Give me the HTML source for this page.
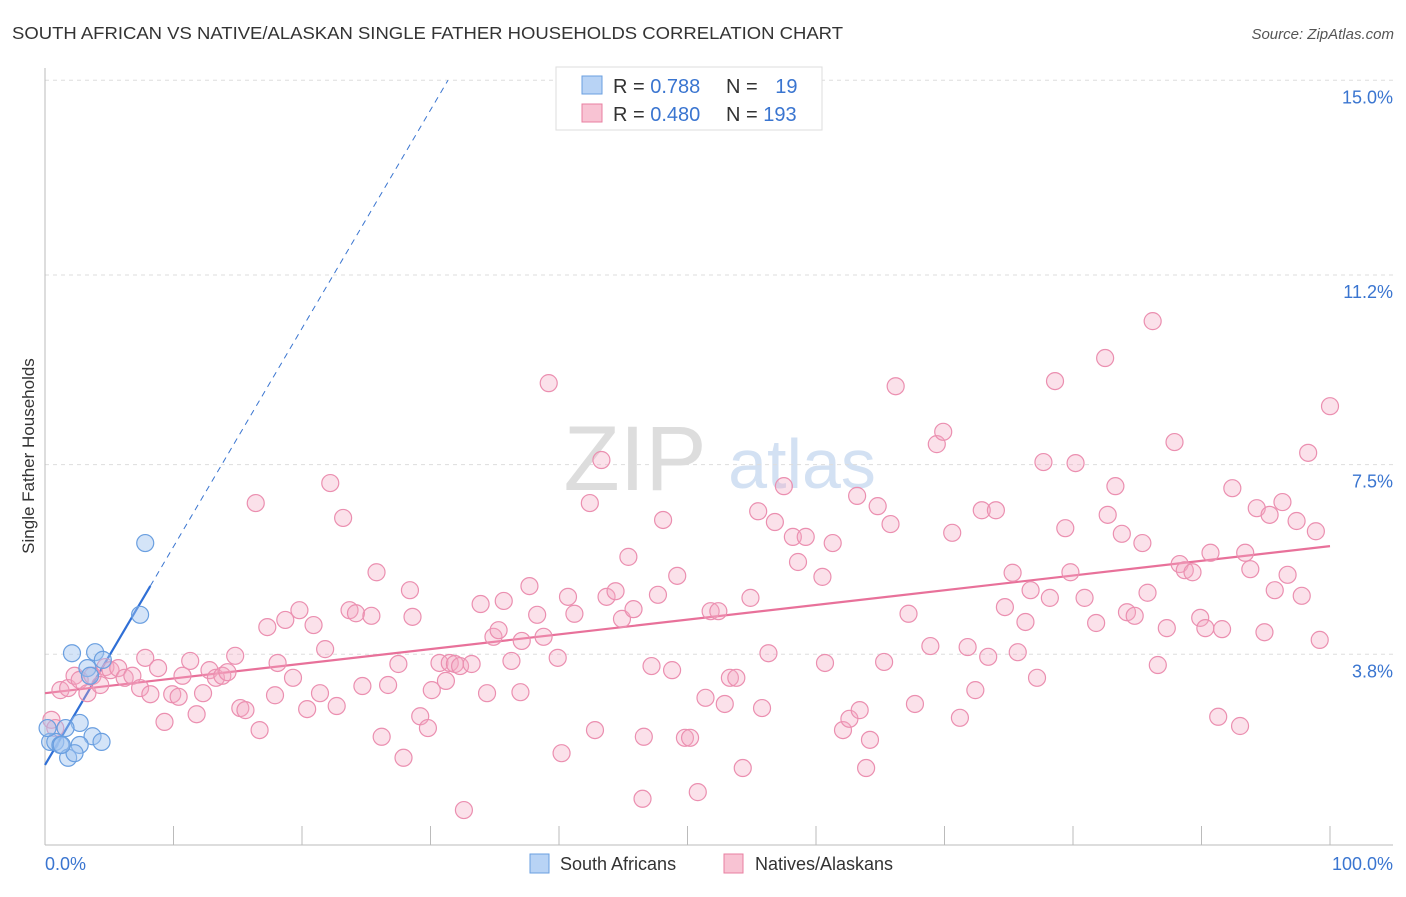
<!DOCTYPE html>
<html><head><meta charset="utf-8"><style>
body{margin:0;background:#fff;font-family:"Liberation Sans",sans-serif}
svg text{font-family:"Liberation Sans",sans-serif}
</style></head><body>
<svg id="chart" width="1406" height="892" xmlns="http://www.w3.org/2000/svg">
<text x="12" y="39" font-size="17.5" fill="#333" textLength="831" lengthAdjust="spacingAndGlyphs">SOUTH AFRICAN VS NATIVE/ALASKAN SINGLE FATHER HOUSEHOLDS CORRELATION CHART</text>
<text x="1394" y="39" font-size="15" fill="#555" font-style="italic" text-anchor="end">Source: ZipAtlas.com</text>
<g>
<text x="635" y="490" font-size="92" fill="#ddd" font-family="Liberation Serif" text-anchor="middle">ZIP</text>
<text x="802" y="488" font-size="70" fill="#d3e1f3" text-anchor="middle">atlas</text>
</g>
<g id="grid"></g>
<g id="axes"></g>
<text transform="translate(34,456) rotate(-90)" font-size="17" fill="#333" text-anchor="middle">Single Father Households</text>
<g id="lines"></g>
<g id="pts"></g>
<g>
<rect x="556" y="67" width="266" height="63" fill="#fff" stroke="#ddd"/>
<rect x="582" y="76" width="20" height="18" fill="#b8d3f5" stroke="#6a9fe0"/>
<rect x="582" y="104" width="20" height="18" fill="#f8c3d3" stroke="#e87fa0"/>
<text x="613" y="93" font-size="20" fill="#333">R = <tspan fill="#3a75d0">0.788</tspan></text>
<text x="726" y="93" font-size="20" fill="#333">N = <tspan fill="#3a75d0" dx="12">19</tspan></text>
<text x="613" y="121" font-size="20" fill="#333">R = <tspan fill="#3a75d0">0.480</tspan></text>
<text x="726" y="121" font-size="20" fill="#333">N = <tspan fill="#3a75d0">193</tspan></text>
</g>
<g>
<rect x="530" y="854" width="19" height="19" fill="#b8d3f5" stroke="#6a9fe0"/>
<text x="560" y="870" font-size="18" fill="#333">South Africans</text>
<rect x="724" y="854" width="19" height="19" fill="#f8c3d3" stroke="#e87fa0"/>
<text x="755" y="870" font-size="18" fill="#333">Natives/Alaskans</text>
</g>
</svg>
<script>
const yTicks=[15.0,11.2,7.5,3.8];
const yTickLabels=["15.0%","11.2%","7.5%","3.8%"];
const xTickLabels=["0.0%","100.0%"];
const blueX=[7.8,7.4,3.9,2.1,3.3,3.5,4.5,2.7,1.6,3.7,4.4,0.4,0.8,1.2,2.7,1.8,2.3,0.2,1.3];
const blueY=[5.97,4.57,3.84,3.82,3.53,3.38,3.69,2.46,2.36,2.2,2.09,2.09,2.09,2.03,2.03,1.78,1.87,2.36,2.03];
const pinkX=[0.5,0.8,1.2,1.8,2.3,2.7,3.3,3.7,4.3,4.7,5.1,5.7,6.2,6.8,7.4,7.8,8.2,8.8,9.3,9.9,10.4,10.7,11.3,11.8,12.3,12.8,13.3,13.8,14.2,14.8,15.2,15.6,16.4,16.7,17.3,17.9,18.1,18.7,19.3,19.8,20.4,20.9,21.4,21.8,22.2,22.7,23.2,23.7,24.2,24.7,25.4,25.8,26.2,26.7,27.5,27.9,28.4,28.6,29.2,29.8,30.1,30.7,31.2,31.5,31.9,32.3,32.6,33.2,33.9,34.4,34.9,35.3,35.7,36.3,37.0,37.1,37.7,38.3,38.8,39.2,39.9,40.2,40.7,41.2,42.4,42.8,43.3,43.7,44.4,44.9,45.4,45.8,46.5,46.6,47.2,47.7,48.1,48.8,49.2,49.8,50.2,50.8,51.4,51.8,52.4,52.9,53.3,53.8,54.3,54.9,55.5,55.8,56.3,56.8,57.5,58.2,58.6,59.2,60.5,60.7,61.3,62.1,62.6,63.2,63.4,63.9,64.2,64.8,65.3,65.8,66.2,67.2,67.7,68.9,69.4,69.9,70.6,71.2,71.8,72.4,72.9,73.4,74.0,74.7,75.3,75.7,76.3,76.7,77.2,77.7,78.2,78.6,79.4,79.8,80.2,80.9,81.8,82.5,82.7,83.3,83.8,84.2,84.8,85.4,85.8,86.2,86.6,87.3,87.9,88.3,88.7,89.3,89.9,90.3,90.7,91.3,91.6,92.4,93.0,93.4,93.8,94.3,94.9,95.3,95.7,96.3,96.7,97.4,97.8,98.3,98.9,99.2,100.0];
const pinkY=[2.52,2.36,3.10,3.14,3.38,3.30,3.04,3.38,3.20,3.55,3.49,3.53,3.34,3.38,3.14,3.73,3.02,3.53,2.48,3.02,2.97,3.38,3.67,2.63,3.04,3.49,3.34,3.38,3.45,3.77,2.75,2.71,6.75,2.32,4.33,3.00,3.63,4.47,3.34,4.66,2.73,4.37,3.04,3.90,7.14,2.79,6.46,4.66,4.60,3.18,4.55,5.40,2.19,3.20,3.61,1.78,5.05,4.53,2.59,2.36,3.10,3.63,3.28,3.63,3.61,3.57,0.76,3.61,4.78,3.04,4.14,4.27,4.84,3.67,3.06,4.06,5.13,4.57,4.14,9.09,3.73,1.87,4.92,4.59,6.75,2.32,7.59,4.92,5.03,4.49,5.70,4.68,0.98,2.19,3.57,4.96,6.42,3.49,5.33,2.17,2.17,1.11,2.95,4.64,4.64,2.83,3.34,3.34,1.58,4.90,6.59,2.75,3.82,6.38,7.08,6.09,5.60,6.09,5.31,3.63,5.97,2.32,2.54,6.89,2.71,1.58,2.13,6.69,3.65,6.34,9.03,4.59,2.83,3.96,7.90,8.14,6.17,2.56,3.94,3.10,6.61,3.75,6.61,4.72,5.39,3.84,4.43,5.05,3.34,7.55,4.90,9.13,6.26,5.40,7.53,4.90,4.41,9.58,6.52,7.08,6.15,4.62,4.55,5.97,5.00,10.30,3.59,4.31,7.94,5.56,5.44,5.40,4.51,4.31,5.78,2.58,4.29,7.04,2.40,5.78,5.46,6.65,4.23,6.52,5.05,6.77,5.35,6.40,4.94,7.73,6.20,4.08,8.64];
const blueFit=[1.64,0.426];
const pinkFit=[3.04,0.0287];

const NS="http://www.w3.org/2000/svg";
const X0=45,X1=1330,YZ=849,YS=51.25;
function sx(v){return X0+(X1-X0)*v/100;}
function sy(v){return YZ-v*YS;}
function mk(tag,attrs,parent){const e=document.createElementNS(NS,tag);for(const k in attrs)e.setAttribute(k,attrs[k]);parent.appendChild(e);return e;}
const grid=document.getElementById('grid'),axes=document.getElementById('axes');
yTicks.forEach((t,i)=>{
  const l=mk('line',{x1:X0,x2:1393,y1:sy(t),y2:sy(t),stroke:'#ddd','stroke-dasharray':'4,4'},grid);
  
  
  const tx=mk('text',{x:1393,y:sy(t)+23,'font-size':18,fill:'#3a75d0','text-anchor':'end'},axes);
  tx.textContent=yTickLabels[i];
  
  
});
mk('line',{x1:X0,x2:X0,y1:68,y2:845,stroke:'#bbb'},axes);
mk('line',{x1:X0,x2:1393,y1:845,y2:845,stroke:'#bbb'},axes);
for(let i=0;i<=10;i++){
  const t=mk('line',{x1:sx(i*10),x2:sx(i*10),y1:826,y2:845,stroke:'#bbb'},axes);
  
  
}
const xl0=mk('text',{x:45,y:870,'font-size':18,fill:'#3a75d0'},axes);xl0.textContent=xTickLabels[0];


const xl1=mk('text',{x:1393,y:870,'font-size':18,fill:'#3a75d0','text-anchor':'end'},axes);xl1.textContent=xTickLabels[1];



const pts=document.getElementById('pts'),lines=document.getElementById('lines');
pinkX.forEach((x,i)=>{
  const c=mk('circle',{cx:sx(x),cy:sy(pinkY[i]),r:8.5,fill:'rgba(244,170,196,0.35)',stroke:'#eb8fb0','stroke-width':1.2},pts);
  
  
});
blueX.forEach((x,i)=>{
  const c=mk('circle',{cx:sx(x),cy:sy(blueY[i]),r:8.5,fill:'rgba(160,195,240,0.45)',stroke:'#6a9fe0','stroke-width':1.2},pts);
  
  
});
const xEndB=(15-blueFit[0])/blueFit[1];
const bd=mk('line',{x1:sx(8.2),y1:sy(blueFit[0]+blueFit[1]*8.2),x2:sx(xEndB),y2:sy(15),stroke:'#3a75d0','stroke-width':1,'stroke-dasharray':'6,5'},lines);


const bs=mk('line',{x1:sx(0),y1:sy(blueFit[0]),x2:sx(8.2),y2:sy(blueFit[0]+blueFit[1]*8.2),stroke:'#2f6fd6','stroke-width':2.2},lines);


const pl=mk('line',{x1:sx(0),y1:sy(pinkFit[0]),x2:sx(100),y2:sy(pinkFit[0]+pinkFit[1]*100),stroke:'#e8719a','stroke-width':2.2},lines);


</script>
</body></html>
